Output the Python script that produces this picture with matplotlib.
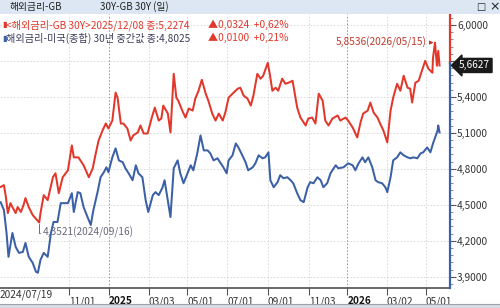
import numpy as np
import pandas as pd
import matplotlib
matplotlib.use("Agg")
import matplotlib.pyplot as plt
from matplotlib.ticker import FuncFormatter, MultipleLocator
from matplotlib.patches import Rectangle
import matplotlib.transforms as mtransforms

plt.rcParams['font.family'] = ['Liberation Sans Narrow', 'Noto Sans CJK KR', 'DejaVu Sans']

# data (days after the first date)
start = pd.Timestamp('2024-07-19')

red_day = [0, 5, 8, 11, 15, 18, 23, 26, 31, 35, 38, 43, 49, 59, 61, 66, 72, 80, 84, 89,
           95, 103, 109, 112, 119, 127, 135, 141, 145, 150, 156, 161, 165, 171, 176, 179,
           184, 188, 194, 199, 203, 210, 214, 219, 225, 231, 236, 242, 246, 249, 256, 260,
           265, 269, 272, 278, 283, 288, 294, 298, 303, 308, 314, 318, 324, 329, 334, 340,
           344, 349, 355, 363, 367, 372, 378, 383, 387, 393, 398, 402, 409, 412, 416, 421,
           425, 431, 436, 441, 447, 454, 459, 467, 471, 477, 482, 487, 493, 497, 502, 508,
           516, 520, 528, 532, 539, 546, 551, 555, 562, 566, 571, 577, 581, 586, 592, 597,
           601, 607, 612, 617, 623, 627, 630, 635, 640, 646, 650, 655, 661, 662, 665, 668,
           670, 672]
red_val = [4.649, 4.664, 4.566, 4.431, 4.514, 4.481, 4.431, 4.481, 4.440, 4.498, 4.556,
           4.481, 4.415, 4.3521, 4.431, 4.581, 4.539, 4.730, 4.763, 4.597, 4.730, 4.788,
           4.996, 4.896, 4.896, 4.830, 4.730, 4.805, 4.913, 5.037, 5.120, 5.178, 5.137,
           5.203, 5.436, 5.394, 5.178, 5.178, 5.137, 5.037, 5.079, 5.104, 5.162, 5.095,
           5.095, 5.220, 5.311, 5.203, 5.220, 5.328, 5.261, 5.104, 5.593, 5.394, 5.369,
           5.286, 5.228, 5.303, 5.286, 5.386, 5.452, 5.543, 5.427, 5.369, 5.261, 5.203,
           5.261, 5.203, 5.270, 5.394, 5.427, 5.469, 5.477, 5.411, 5.386, 5.328, 5.411,
           5.593, 5.552, 5.577, 5.685, 5.593, 5.452, 5.477, 5.452, 5.552, 5.510, 5.519,
           5.535, 5.311, 5.228, 5.162, 5.220, 5.228, 5.178, 5.427, 5.369, 5.203, 5.162,
           5.220, 5.245, 5.203, 5.228, 5.203, 5.145, 5.062, 5.187, 5.261, 5.286, 5.353,
           5.270, 5.228, 5.178, 5.120, 5.021, 5.286, 5.394, 5.510, 5.452, 5.577, 5.477,
           5.469, 5.353, 5.519, 5.535, 5.635, 5.701, 5.635, 5.602, 5.726, 5.8536, 5.660,
           5.784, 5.6627]

blue_day = [0, 5, 9, 12, 18, 23, 28, 34, 38, 43, 49, 54, 57, 61, 66, 72, 77, 81, 87, 92,
            96, 103, 109, 112, 118, 122, 127, 133, 138, 142, 148, 153, 158, 162, 165, 171,
            176, 181, 187, 191, 196, 202, 207, 211, 217, 222, 226, 233, 237, 242, 248, 251,
            257, 260, 265, 271, 275, 280, 286, 291, 295, 301, 306, 311, 317, 321, 326, 332,
            337, 341, 346, 349, 355, 360, 364, 370, 375, 379, 386, 390, 395, 401, 405, 410,
            413, 418, 424, 428, 433, 439, 444, 448, 454, 459, 464, 470, 474, 479, 485, 490,
            494, 500, 505, 513, 517, 525, 532, 539, 543, 548, 554, 558, 563, 569, 574, 578,
            584, 589, 592, 597, 601, 607, 612, 617, 623, 627, 632, 638, 643, 647, 653, 658,
            662, 669, 670, 672]
blue_val = [4.522, 4.456, 4.265, 4.066, 4.265, 4.149, 4.099, 4.107, 4.182, 4.066, 4.016,
            3.942, 3.933, 4.041, 4.099, 4.066, 4.265, 4.357, 4.357, 4.514, 4.514, 4.514,
            4.597, 4.440, 4.606, 4.597, 4.481, 4.398, 4.332, 4.456, 4.597, 4.730, 4.772,
            4.813, 4.772, 4.896, 4.971, 4.871, 4.855, 4.805, 4.763, 4.705, 4.830, 4.763,
            4.730, 4.539, 4.440, 4.581, 4.606, 4.581, 4.647, 4.705, 4.498, 4.398, 4.805,
            4.871, 4.763, 4.680, 4.763, 4.830, 4.788, 4.929, 5.079, 4.954, 4.954, 4.929,
            4.871, 4.888, 4.846, 4.813, 4.763, 4.871, 4.913, 5.012, 4.979, 4.913, 4.855,
            4.788, 4.813, 4.846, 4.913, 4.888, 4.896, 4.938, 4.705, 4.647, 4.689, 4.747,
            4.722, 4.730, 4.705, 4.680, 4.597, 4.539, 4.522, 4.647, 4.689, 4.680, 4.730,
            4.705, 4.647, 4.680, 4.763, 4.830, 4.805, 4.813, 4.846, 4.830, 4.788, 4.846,
            4.896, 4.855, 4.896, 4.813, 4.705, 4.689, 4.680, 4.647, 4.606, 4.730, 4.871,
            4.896, 4.938, 4.913, 4.896, 4.888, 4.896, 4.888, 4.929, 4.938, 4.979, 4.938,
            5.012, 5.120, 5.162, 5.104]

tick_dates = ['2024-11-01', '2025-01-01', '2025-03-03', '2025-05-01', '2025-07-01',
              '2025-09-01', '2025-11-03', '2026-01-01', '2026-03-02', '2026-05-01']
tick_labels = ['11/01', '2025', '03/03', '05/01', '07/01', '09/01', '11/03', '2026', '03/02', '05/01']
year_ticks = ['2025', '2026']

RED = '#e2372b'
BLUE = '#3b60a6'
W, H = 500, 308

def fx(px):
    return px / W

def fy(py):
    return 1 - py / H

red_dates = start + pd.to_timedelta(red_day, unit='D')
blue_dates = start + pd.to_timedelta(blue_day, unit='D')

fig = plt.figure(figsize=(5.0, 3.08), dpi=100)
fig.patch.set_facecolor('white')
ax = fig.add_axes([0, fy(288), fx(450), fy(14) - fy(288)])

ax.plot(blue_dates, blue_val, color=BLUE, lw=1.45, zorder=3)
ax.plot(red_dates, red_val, color=RED, lw=1.45, zorder=4)

ax.set_xlim(start - pd.Timedelta(days=1), start + pd.Timedelta(days=688))
ax.set_ylim(3.806, 6.092)

# axes styling
for s in ['left', 'top', 'right']:
    ax.spines[s].set_visible(False)
ax.spines['bottom'].set_color('#505050')
ax.spines['bottom'].set_linewidth(1.2)

last = red_val[-1]

def yfmt(v, p):
    # the 5,7000 label sits under the current-value box
    if abs(v - 5.7) < 1e-6:
        return ''
    return f"{v:.4f}".replace('.', ',')

ax.yaxis.tick_right()
ax.yaxis.set_major_locator(MultipleLocator(0.3))
ax.yaxis.set_minor_locator(MultipleLocator(0.06))
ax.yaxis.set_major_formatter(FuncFormatter(yfmt))
ax.tick_params(axis='y', which='major', length=4, width=0.8, color='#555555',
               labelsize=7.3, labelcolor='#333333', pad=1)
ax.tick_params(axis='y', which='minor', length=2, width=0.6, color='#777777')

xt = pd.to_datetime(tick_dates)
ax.set_xticks(xt)
ax.set_xticklabels(tick_labels)
ax.tick_params(axis='x', length=5, width=0.8, color='#555555', labelsize=7.3,
               labelcolor='#333333', pad=1)
for lab in ax.get_xticklabels():
    lab.set_horizontalalignment('left')
    if lab.get_text() in year_ticks:
        lab.set_fontweight('bold')
        lab.set_color('#111111')
ax.text(0.0, -0.005, '2024/07/19', transform=ax.transAxes, ha='left', va='top',
        fontsize=7.3, color='#333333')

# grid
for v in np.arange(3.9, 6.01, 0.3):
    ax.axhline(v, color='#d6d6d6', lw=0.6, ls=(0, (2, 2)), zorder=1)
for d, lab in zip(xt, tick_labels):
    c = '#8c8c8c' if lab in year_ticks else '#d6d6d6'
    ax.axvline(d, color=c, lw=0.6, ls=(0, (2, 2)), zorder=1)

# right axis line split in two colours at last value
blend = mtransforms.blended_transform_factory(ax.transAxes, ax.transData)
ax.plot([1, 1], [last + 0.02, 6.092], color=RED, lw=1.6, transform=blend, clip_on=False, zorder=5)
ax.plot([1, 1], [3.806, last + 0.02], color=BLUE, lw=1.6, transform=blend, clip_on=False, zorder=5)

ax.annotate(f"{last:.4f}".replace('.', ','), xy=(1.0, last), xycoords=blend,
            xytext=(9, 0), textcoords='offset pixels', ha='left', va='center',
            fontsize=7.3, color='white', zorder=10, annotation_clip=False,
            bbox=dict(boxstyle='larrow,pad=0.2', fc='#1a1a1a', ec='#1a1a1a'))

# max / min annotations
imax = int(np.argmax(red_val))
imin = int(np.argmin(red_val))
ax.annotate(f"{red_val[imax]:.4f}".replace('.', ',') + red_dates[imax].strftime('(%Y/%m/%d)'),
            xy=(red_dates[imax], red_val[imax]), xytext=(-8, 0), textcoords='offset pixels',
            ha='right', va='center', fontsize=7.3, color='#c0392b', zorder=6,
            arrowprops=dict(arrowstyle='-|>,head_length=0.3,head_width=0.15', color='#c0392b',
                            lw=0.7, shrinkA=0, shrinkB=1))
ax.annotate(f"{red_val[imin]:.4f}".replace('.', ',') + red_dates[imin].strftime('(%Y/%m/%d)'),
            xy=(red_dates[imin], red_val[imin]), xytext=(4, -10), textcoords='offset pixels',
            ha='left', va='center', fontsize=7.3, color='#6a6a7a', zorder=6,
            arrowprops=dict(arrowstyle='-', color='#6a6a7a', lw=0.7, shrinkA=0, shrinkB=1,
                            connectionstyle='angle,angleA=0,angleB=90,rad=0'))

# header bar
fig.patches.append(Rectangle((0, fy(14)), 1, 14 / H, transform=fig.transFigure,
                             fc='#dce7f3', ec='none', zorder=0))
fig.text(fx(10), fy(7), '해외금리-GB', fontsize=7, va='center', color='#222222')
fig.text(fx(100), fy(7), '30Y-GB 30Y (일)', fontsize=7, va='center', color='#222222')
fig.text(fx(476), fy(7), '□', fontsize=7, va='center', color='#222222', family='DejaVu Sans')
fig.text(fx(489), fy(7), '×', fontsize=9, va='center', color='#222222', family='DejaVu Sans')

# legend lines
fig.text(fx(2), fy(25), '▮', fontsize=6, va='center', color=RED, family='DejaVu Sans')
fig.text(fx(6), fy(25), '<해외금리-GB 30Y>2025/12/08 종:5,2274', fontsize=7.3, va='center', color=RED)
fig.text(fx(208), fy(25), '▲0,0324  +0,62%', fontsize=7.3, va='center', color=RED)
fig.text(fx(2), fy(38), '▮', fontsize=6, va='center', color=BLUE, family='DejaVu Sans')
fig.text(fx(6), fy(38), '해외금리-미국(종합) 30년 중간값 종:4,8025', fontsize=7.3, va='center', color='#3c3c5a')
fig.text(fx(208), fy(38), '▲0,0100  +0,21%', fontsize=7.3, va='center', color=RED)

# bottom strip
fig.patches.append(Rectangle((0, 0), 1, fy(304), transform=fig.transFigure,
                             fc='#d8dde3', ec='none', zorder=0))
fig.add_artist(plt.Line2D([0, 1], [fy(304), fy(304)], color='#9aa3ad', lw=0.8))

fig.savefig('out.png', dpi=100)
